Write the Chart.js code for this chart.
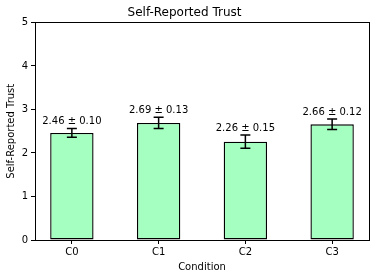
<!DOCTYPE html>
<html>
<head>
<meta charset="utf-8">
<script src="https://cdn.jsdelivr.net/npm/chart.js@4"></script>
<style>
  html, body { margin: 0; padding: 0; background: #fff; }
  #wrap { width: 376px; height: 278px; }
</style>
</head>
<body>
<div id="wrap"><canvas id="chart" width="376" height="278"></canvas></div>
<script>
const conditions = ["C0", "C1", "C2", "C3"];
const means = [2.46, 2.69, 2.26, 2.66];
const errors = [0.10, 0.13, 0.15, 0.12];
const yTicks = [0, 1, 2, 3, 4, 5];

const FONT = "'DejaVu Sans', sans-serif";

// error bars + "mean ± err" labels, drawn through the scales
const errorBars = {
  id: "errorBars",
  afterDatasetsDraw(chart) {
    const { ctx, scales } = chart;
    const meta = chart.getDatasetMeta(0);
    ctx.save();
    ctx.strokeStyle = "#000";
    ctx.lineWidth = 1.5;
    meta.data.forEach((bar, i) => {
      const x = bar.x;
      const yHi = scales.y.getPixelForValue(means[i] + errors[i]);
      const yLo = scales.y.getPixelForValue(means[i] - errors[i]);
      ctx.beginPath();
      ctx.moveTo(x, yLo);
      ctx.lineTo(x, yHi);
      ctx.moveTo(x - 5, yHi);
      ctx.lineTo(x + 5, yHi);
      ctx.moveTo(x - 5, yLo);
      ctx.lineTo(x + 5, yLo);
      ctx.stroke();

      ctx.fillStyle = "#000";
      ctx.font = "10px " + FONT;
      ctx.textAlign = "center";
      ctx.textBaseline = "bottom";
      ctx.fillText(means[i].toFixed(2) + " ± " + errors[i].toFixed(2), x, yHi - 2);
    });
    // box around plot area
    const a = chart.chartArea;
    ctx.lineWidth = 1;
    ctx.strokeRect(Math.round(a.left) + 0.5, Math.round(a.top) + 0.5,
      Math.round(a.right - a.left), Math.round(a.bottom - a.top));
    ctx.restore();
  },
};

new Chart(document.getElementById("chart"), {
  type: "bar",
  data: {
    datasets: [
      {
        label: "Self-Reported Trust",
        data: means.map((m, i) => ({ x: i, y: m })),
        backgroundColor: "#a4ffc0",
        borderColor: "#000",
        borderWidth: 1.4,
        borderSkipped: false,
        categoryPercentage: 1,
        barPercentage: 0.5,
      },
    ],
  },
  options: {
    responsive: false,
    animation: false,
    devicePixelRatio: 1,
    layout: { padding: { left: 0, right: 7, top: 0, bottom: 0 } },
    plugins: {
      legend: { display: false },
      tooltip: { enabled: false },
      title: {
        display: true,
        text: "Self-Reported Trust",
        color: "#000",
        font: { family: FONT, size: 12, weight: "normal" },
        padding: { top: 6, bottom: 2 },
      },
    },
    scales: {
      x: {
        type: "linear",
        offset: false,
        min: -0.425,
        max: 3.425,
        afterBuildTicks(scale) { scale.ticks = conditions.map((c, i) => ({ value: i })); },
        grid: { display: true, offset: false, drawOnChartArea: false, drawTicks: true, tickLength: 4, color: "#000" },
        border: { display: true, color: "#000" },
        ticks: {
          color: "#000",
          font: { family: FONT, size: 10 },
          padding: 2,
          maxRotation: 0,
          callback: (v) => conditions[v],
        },
        title: {
          display: true,
          text: "Condition",
          color: "#000",
          font: { family: FONT, size: 10 },
          padding: { top: 0, bottom: 5 },
        },
        afterFit(scale) { scale.height = 38; },
      },
      y: {
        min: 0,
        max: 5,
        afterBuildTicks(scale) { scale.ticks = yTicks.map((v) => ({ value: v })); },
        grid: { display: true, drawOnChartArea: false, drawTicks: true, tickLength: 4, color: "#000" },
        border: { display: true, color: "#000" },
        ticks: { color: "#000", font: { family: FONT, size: 10 }, padding: 3 },
        title: {
          display: true,
          text: "Self-Reported Trust",
          color: "#000",
          font: { family: FONT, size: 10 },
          padding: { top: 5, bottom: 0 },
        },
        afterFit(scale) { scale.width = 35; },
      },
    },
  },
  plugins: [errorBars],
});
</script>
</body>
</html>
